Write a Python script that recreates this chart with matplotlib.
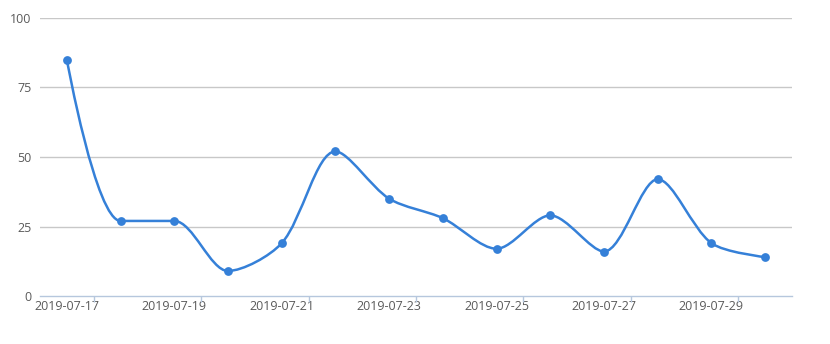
import numpy as np
import matplotlib
matplotlib.use("Agg")
import matplotlib.pyplot as plt
from matplotlib.path import Path
from matplotlib.patches import PathPatch

# data
dates = ["2019-07-17", "2019-07-18", "2019-07-19", "2019-07-20", "2019-07-21",
         "2019-07-22", "2019-07-23", "2019-07-24", "2019-07-25", "2019-07-26",
         "2019-07-27", "2019-07-28", "2019-07-29", "2019-07-30"]
values = [85, 27, 27, 9, 19, 52, 35, 28, 17, 29, 16, 42, 19, 14]
y_ticks = [0, 25, 50, 75, 100]

LINE = "#3580d8"
TEXT = "#5a5a5a"


def smooth_path(pts, smooth=0.5):
    """Bezier path in the echarts style (control points clamped per segment)."""
    n = len(pts)
    verts = [tuple(pts[0])]
    codes = [Path.MOVETO]
    cp0 = pts[0].copy()
    for i in range(1, n):
        x, y = pts[i]
        px, py = pts[i - 1]
        if i == n - 1:
            cp1 = pts[i].copy()
            nxt_cp0 = cp1
        else:
            nx, ny = pts[i + 1]
            vx, vy = nx - px, ny - py
            len_prev = np.hypot(x - px, y - py)
            len_next = np.hypot(nx - x, ny - y)
            ratio = len_next / (len_next + len_prev)
            ncx = x + vx * smooth * ratio
            ncy = y + vy * smooth * ratio
            ncx = max(min(ncx, max(nx, x)), min(nx, x))
            ncy = max(min(ncy, max(ny, y)), min(ny, y))
            vx, vy = ncx - x, ncy - y
            c1x = x - vx * len_prev / len_next
            c1y = y - vy * len_prev / len_next
            c1x = max(min(c1x, max(px, x)), min(px, x))
            c1y = max(min(c1y, max(py, y)), min(py, y))
            vx, vy = x - c1x, y - c1y
            cp1 = np.array([c1x, c1y])
            nxt_cp0 = np.array([x + vx * len_next / len_prev,
                                y + vy * len_next / len_prev])
        verts += [tuple(cp0), tuple(cp1), (x, y)]
        codes += [Path.CURVE4] * 3
        cp0 = nxt_cp0
    return Path(verts, codes)


plt.rcParams["font.family"] = ["Open Sans", "DejaVu Sans"]

fig = plt.figure(figsize=(8.3, 3.44), dpi=100)
ax = fig.add_axes([40 / 830, 48 / 344, 752 / 830, 278 / 344])

x = np.arange(len(dates))
ax.set_xlim(-0.5, len(dates) - 0.5)
ax.set_ylim(0, 100)

# smooth line built in pixel space, then mapped back to data space
pix = ax.transData.transform(np.column_stack([x, values]))
path_px = smooth_path(pix, smooth=0.3)
path_data = Path(ax.transData.inverted().transform(path_px.vertices), path_px.codes)
ax.add_patch(PathPatch(path_data, facecolor="none", edgecolor=LINE, lw=1.8, zorder=3))
ax.scatter(x, values, s=40, color=LINE, zorder=4, linewidths=0)

ax.set_yticks(y_ticks)
ax.set_yticklabels([str(v) for v in y_ticks])
for v in y_ticks[1:]:
    ax.axhline(v, color="#c8c8c8", lw=1, zorder=1)

ax.set_xticks(x[::2])
ax.set_xticklabels(dates[::2])
ax.set_xticks(np.arange(0.5, len(dates) - 1, 2), minor=True)

ax.tick_params(axis="x", which="major", length=0, pad=3, labelsize=9, labelcolor=TEXT)
ax.tick_params(axis="x", which="minor", length=4, color="#b6c7dd", width=1)
ax.tick_params(axis="y", length=0, pad=6, labelsize=9, labelcolor=TEXT)

for side in ["top", "right", "left"]:
    ax.spines[side].set_visible(False)
ax.spines["bottom"].set_color("#b6c7dd")
ax.spines["bottom"].set_linewidth(1)

fig.savefig("out.png", dpi=100)
